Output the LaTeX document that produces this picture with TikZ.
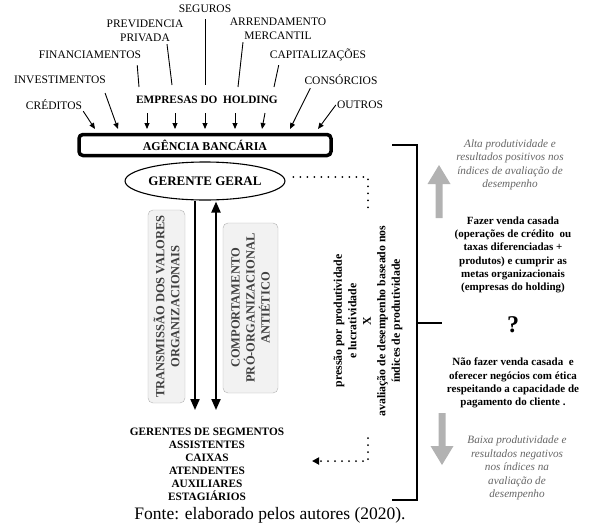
\documentclass[tikz,border=0pt]{standalone}
\usepackage{fontspec}
\setmainfont{Liberation Serif}
\usetikzlibrary{arrows.meta,shapes.geometric}

\begin{document}
\begin{tikzpicture}[x=1pt,y=-1pt,
	rotulo/.style={inner sep=1pt,align=center,font=\fontsize{11.5}{14}\selectfont},
	linha/.style={line width=0.9pt},
	fina/.style={line width=0.9pt,-{Triangle[length=6pt,width=5pt]}},
	grossa/.style={line width=2pt,-{Triangle[length=11pt,width=9pt]}},
	duplagrossa/.style={line width=2pt,{Triangle[length=11pt,width=9pt]}-{Triangle[length=11pt,width=9pt]}},
	pontos/.style={line width=2pt,line cap=round,dash pattern=on 0pt off 7pt},
	caixacinza/.style={draw=gray!60,fill=gray!10,rounded corners=5pt,rotate=90,align=center,text=black!75,font=\bfseries\fontsize{12.5}{15}\selectfont},
	negrito/.style={align=center,font=\bfseries\fontsize{11}{13.3}\selectfont},
	italico/.style={align=center,text=black!60,font=\itshape\fontsize{11.2}{13.4}\selectfont}]
	\useasboundingbox (0,0) rectangle (592,528);
	%%%%%%%% empresas do holding
	\node[rotulo] (seg) at (205,9) {SEGUROS};
	\node[rotulo] (prev) at (145,31) {PREVIDENCIA\\PRIVADA};
	\node[rotulo] (arr) at (278,29) {ARRENDAMENTO\\MERCANTIL};
	\node[rotulo] (fin) at (90,55) {FINANCIAMENTOS};
	\node[rotulo] (cap) at (318,55) {CAPITALIZAÇÕES};
	\node[rotulo] (inv) at (60,80) {INVESTIMENTOS};
	\node[rotulo] (cons) at (341,80) {CONSÓRCIOS};
	\node[rotulo] (cred) at (54,105) {CRÉDITOS};
	\node[rotulo] (out) at (360,105) {OUTROS};
	\node[rotulo,font=\bfseries\fontsize{11.3}{14}\selectfont] (emp) at (207,100) {EMPRESAS DO\ \ HOLDING};
	%%%%%%%% agencia e gerente
	\node[draw,line width=3.5pt,rounded corners=4pt,minimum width=252pt,minimum height=21pt,font=\bfseries\fontsize{12}{14}\selectfont] (agencia) at (205,145) {AGÊNCIA BANCÁRIA};
	\node[draw,ellipse,line width=1.1pt,minimum width=154pt,minimum height=38pt,inner sep=0pt,font=\bfseries\fontsize{13}{15}\selectfont] (gerente) at (205,181) {GERENTE GERAL};
	%%%%%%%% setas de cima
	\coordinate (f3) at (139,87);
	\coordinate (f4) at (172,85);
	\coordinate (f5) at (205,85);
	\coordinate (f6) at (238,87);
	\coordinate (f7) at (274,87);
	\coordinate (e3) at (147,113);
	\coordinate (e4) at (175,113);
	\coordinate (e5) at (205,113);
	\coordinate (e6) at (235,113);
	\coordinate (e7) at (265,113);
	\coordinate (t1) at (95,129);
	\coordinate (t2) at (118,129);
	\coordinate (t7) at (262,129);
	\coordinate (t8) at (290,129);
	\coordinate (t9) at (318,129);
	\draw[fina] (cred.south east) -- (t1);
	\draw[fina] ([xshift=-2pt,yshift=-8pt]inv.south east) -- (t2);
	\draw[linha] ([xshift=-5pt,yshift=-5pt]fin.south east) -- (f3);
	\draw[linha] ([xshift=22pt,yshift=-1pt]prev.south) -- (f4);
	\draw[linha] ([yshift=-5pt]seg.south) -- (f5);
	\draw[linha] ([xshift=-35pt,yshift=-1pt]arr.south) -- (f6);
	\draw[linha] ([xshift=10pt,yshift=-3pt]cap.south west) -- (f7);
	\draw[fina] ([xshift=7pt,yshift=-2pt]cons.south west) -- (t8);
	\draw[fina] (out.west) -- (t9);
	\draw[fina] (e3) -- (e3 |- t1);
	\draw[fina] (e4) -- (e4 |- t1);
	\draw[fina] (e5) -- (e5 |- t1);
	\draw[fina] (e6) -- (e6 |- t1);
	\draw[fina] (e7) -- (t7);
	%%%%%%%% gerente -> equipe
	\coordinate (v1) at (195,410);
	\coordinate (v2) at (216,410);
	\draw[grossa] (v1 |- gerente.south) -- (v1);
	\draw[duplagrossa] ([yshift=-1pt]v2 |- gerente.south) -- (v2);
	\node[caixacinza,minimum width=193pt,minimum height=37pt] (transm) at (166.5,306.5) {TRANSMISSÃO DOS VALORES\\ORGANIZACIONAIS};
	\node[caixacinza,minimum width=170pt,minimum height=55pt] (comport) at (250.5,308) {COMPORTAMENTO\\PRÓ-ORGANIZACIONAL\\ANTIÉTICO};
	\node[negrito,font=\bfseries\fontsize{11.3}{13}\selectfont] (equipe) at (207,464) {GERENTES DE SEGMENTOS\\ASSISTENTES\\CAIXAS\\ATENDENTES\\AUXILIARES\\ESTAGIÁRIOS};
	%%%%%%%% pressao x avaliacao
	\node[rotate=90,align=center,font=\bfseries\fontsize{11.8}{14.5}\selectfont] (pressao) at (368,321) {pressão por produtividade\\e lucratividade\\X\\avaliação de desempenho baseado nos\\índices de produtividade};
	\coordinate (p1) at (368,177);
	\coordinate (p2) at (368,212);
	\coordinate (p3) at (368,438);
	\coordinate (p4) at (368,461);
	\coordinate (p5) at (312,461);
	\draw[pontos] ([xshift=8pt,yshift=4pt]gerente.east) -- (p1) -- (p2);
	\draw[pontos,-{Triangle[length=7pt,width=7pt]}] (p3) -- (p4) -- (p5);
	%%%%%%%% chave
	\draw[line width=2pt] (392,145) -- (417,145) -- (417,500) -- (392,500);
	\draw[line width=2pt] (417,323) -- (442,323);
	%%%%%%%% lado direito
	\fill[gray!60] (435.5,218) -- (435.5,184) -- (427.5,184) -- (439,165) -- (450.5,184) -- (442.5,184) -- (442.5,218) -- cycle;
	\fill[gray!60] (438.5,413) -- (438.5,446) -- (430.5,446) -- (442,465) -- (453.5,446) -- (445.5,446) -- (445.5,413) -- cycle;
	\node[italico] (alta) at (510,165) {Alta produtividade e\\resultados positivos nos\\índices de avaliação de\\desempenho};
	\node[negrito] (fazer) at (513,255) {Fazer venda casada\\(operações de crédito\ \ ou\\taxas diferenciadas +\\produtos) e cumprir as\\metas organizacionais\\(empresas do holding)};
	\node[font=\bfseries\fontsize{24}{24}\selectfont] (interrog) at (513,325) {?};
	\node[negrito] (nao) at (513,383) {Não fazer venda casada\ \ e\\oferecer negócios com ética\\respeitando a capacidade de\\pagamento do cliente .};
	\node[italico] (baixa) at (517,468) {Baixa produtividade e\\resultados negativos\\nos índices na\\avaliação de\\desempenho};
	%%%%%%%% fonte
	\node[font=\fontsize{17.5}{20}\selectfont] (fonte) at (270,515) {Fonte: elaborado pelos autores (2020).};
\end{tikzpicture}
\end{document}
